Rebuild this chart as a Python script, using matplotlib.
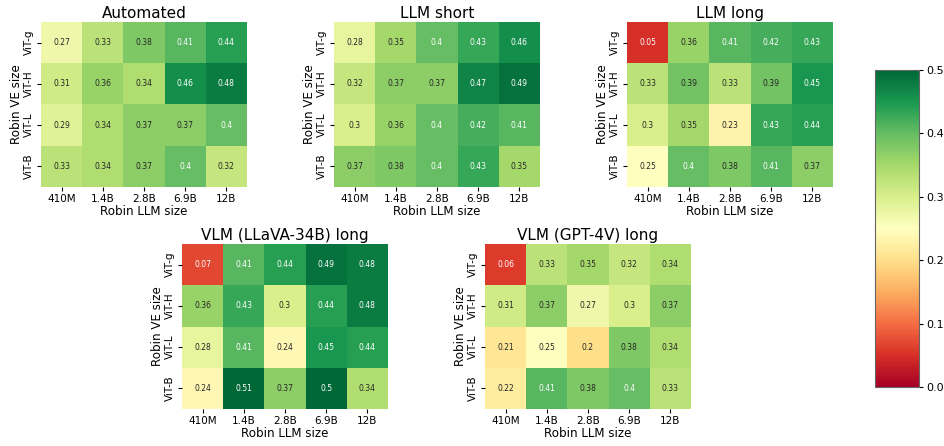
import matplotlib
matplotlib.use("Agg")
import matplotlib.pyplot as plt
import numpy as np
import seaborn as sns

llm_sizes = ["410M", "1.4B", "2.8B", "6.9B", "12B"]
ve_sizes = ["ViT-g", "ViT-H", "ViT-L", "ViT-B"]

automated = [[0.27, 0.33, 0.38, 0.41, 0.44],
             [0.31, 0.36, 0.34, 0.46, 0.48],
             [0.29, 0.34, 0.37, 0.37, 0.40],
             [0.33, 0.34, 0.37, 0.40, 0.32]]
llm_short = [[0.28, 0.35, 0.40, 0.43, 0.46],
             [0.32, 0.37, 0.37, 0.47, 0.49],
             [0.30, 0.36, 0.40, 0.42, 0.41],
             [0.37, 0.38, 0.40, 0.43, 0.35]]
llm_long = [[0.05, 0.36, 0.41, 0.42, 0.43],
            [0.33, 0.39, 0.33, 0.39, 0.45],
            [0.30, 0.35, 0.23, 0.43, 0.44],
            [0.25, 0.40, 0.38, 0.41, 0.37]]
vlm_llava = [[0.07, 0.41, 0.44, 0.49, 0.48],
             [0.36, 0.43, 0.30, 0.44, 0.48],
             [0.28, 0.41, 0.24, 0.45, 0.44],
             [0.24, 0.51, 0.37, 0.50, 0.34]]
vlm_gpt4v = [[0.06, 0.33, 0.35, 0.32, 0.34],
             [0.31, 0.37, 0.27, 0.30, 0.37],
             [0.21, 0.25, 0.20, 0.38, 0.34],
             [0.22, 0.41, 0.38, 0.40, 0.33]]

# panel boxes in pixels: x, y (top), width, height
panels = [
    ("Automated", automated, [41, 22, 206, 165]),
    ("LLM short", llm_short, [334, 22, 206, 165]),
    ("LLM long", llm_long, [627, 22, 206, 165]),
    ("VLM (LLaVA-34B) long", vlm_llava, [182, 244, 206, 165]),
    ("VLM (GPT-4V) long", vlm_gpt4v, [485, 244, 206, 165]),
]

W, H = 944, 446
fig = plt.figure(figsize=(W / 100, H / 100), dpi=100)

def px_rect(x, y, w, h):
    return [x / W, 1 - (y + h) / H, w / W, h / H]

for title, vals, box in panels:
    ax = fig.add_axes(px_rect(*box))
    sns.heatmap(np.array(vals), ax=ax, cmap="RdYlGn", vmin=0, vmax=0.5,
                annot=True, annot_kws={"fontsize": 5.5}, cbar=False,
                xticklabels=llm_sizes, yticklabels=ve_sizes)
    ax.set_title(title, fontsize=11, pad=3)
    ax.set_xlabel("Robin LLM size", fontsize=8.6, labelpad=1)
    ax.set_ylabel("Robin VE size", fontsize=8.6, labelpad=1)
    ax.tick_params(axis="x", labelsize=7.5, rotation=0, length=3, pad=2)
    ax.tick_params(axis="y", labelsize=7.5, rotation=90, length=3, pad=2)
    for lbl in ax.get_yticklabels():
        lbl.set_va("center")

cax = fig.add_axes(px_rect(875, 70, 44, 317))
sm = plt.cm.ScalarMappable(cmap="RdYlGn", norm=plt.Normalize(0, 0.5))
cb = fig.colorbar(sm, cax=cax)
cb.set_ticks([0, 0.1, 0.2, 0.3, 0.4, 0.5])
cb.ax.tick_params(labelsize=8, length=3, pad=2)
cb.outline.set_linewidth(0.8)
cb.outline.set_edgecolor("#666666")

fig.savefig("out.png", dpi=100)
